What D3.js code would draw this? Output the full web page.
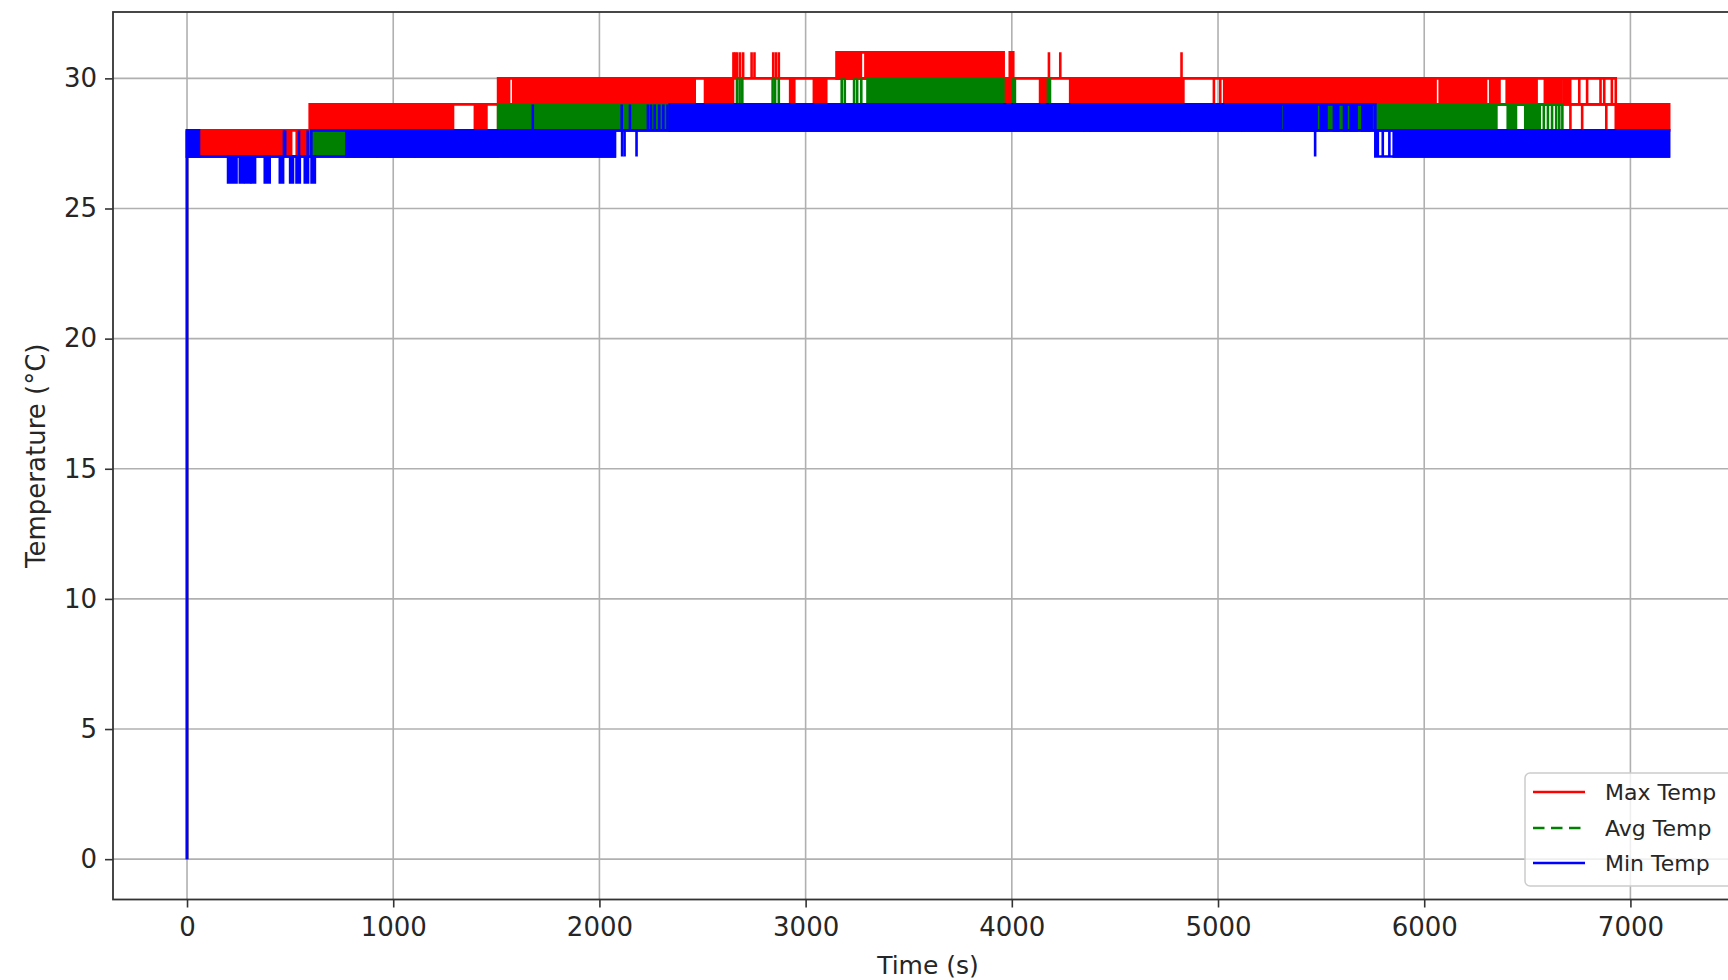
<!DOCTYPE html>
<html><head><meta charset="utf-8">
<script src="https://cdn.jsdelivr.net/npm/d3@7"></script>
<style>html,body{margin:0;padding:0;background:#fff;overflow:hidden}</style>
</head><body><svg id="chart" width="1728" height="980"></svg>
<script>
// ---------- data (time in s, temperature in °C) ----------
const xTicks = [0, 1000, 2000, 3000, 4000, 5000, 6000, 7000];
const yTicks = [0, 5, 10, 15, 20, 25, 30];
const seriesNames = ["Max Temp", "Avg Temp", "Min Temp"];
const seriesColors = ["#ff0000", "#008000", "#0000ff"];
const xLabel = "Time (s)";
const yLabel = "Temperature (°C)";

// envelopes: [tStart, tEnd, low, high] – level band the trace stays within
// bands: [tStart, tEnd, low, high] – spans where the trace flickers densely
// spikes: [t, low, high] – single short excursions
const maxEnvelopes = [
  [0, 596, 27, 28], [596, 1509, 28, 29], [1509, 6929, 29, 30],
  [3151, 3960, 30, 31], [6709, 7187, 28, 29]
];
const maxBands = [
  [0, 433, 27, 28], [438, 505, 27, 28], [532, 570, 27, 28], [578, 596, 27, 28],
  [596, 1273, 28, 29], [1283, 1290, 28, 29], [1396, 1452, 28, 29],
  [1509, 1562, 29, 30], [1582, 1812, 29, 30], [1820, 2000, 29, 30], [2008, 2434, 29, 30],
  [2440, 2462, 29, 30], [2512, 2648, 29, 30], [2925, 2945, 29, 30], [3040, 3100, 29, 30],
  [3151, 3180, 30, 31], [3185, 3228, 30, 31], [3233, 3268, 30, 31], [3290, 3683, 30, 31],
  [3688, 3763, 30, 31], [3768, 3959, 30, 31], [3990, 4007, 30, 31],
  [3959, 4002, 29, 30], [4137, 4170, 29, 30],
  [4283, 4318, 29, 30], [4323, 4612, 29, 30], [4617, 4718, 29, 30], [4723, 4832, 29, 30],
  [5030, 5114, 29, 30], [5119, 5332, 29, 30], [5337, 5405, 29, 30], [5410, 5510, 29, 30],
  [5515, 6055, 29, 30], [6075, 6265, 29, 30], [6275, 6300, 29, 30], [6320, 6365, 29, 30],
  [6400, 6440, 29, 30], [6450, 6545, 29, 30], [6585, 6665, 29, 30], [6675, 6708, 29, 30],
  [6929, 7050, 28, 29], [7062, 7187, 28, 29]
];
const maxSpikes = [
  [0, 0, 28],
  [2650, 30, 31], [2658, 30, 31], [2668, 30, 31], [2682, 30, 31], [2697, 30, 31],
  [2738, 30, 31], [2752, 30, 31], [2843, 30, 31], [2856, 30, 31], [2870, 30, 31],
  [4180, 30, 31], [4235, 30, 31], [4823, 30, 31],
  [4980, 29, 30], [5011, 29, 30], [6752, 29, 30], [6790, 29, 30], [6855, 29, 30],
  [6873, 29, 30], [6910, 29, 30],
  [1278, 28, 29], [6766, 28, 29], [6883, 28, 29]
];

const avgEnvelopes = [
  [0, 603, 27, 27], [603, 1509, 27, 28], [1509, 2342, 28, 29], [2342, 6670, 28, 29],
  [6670, 7187, 28, 28]
];
const avgBands = [
  [603, 773, 27, 28],
  [1509, 2342, 28, 29],
  [3300, 3959, 29, 30],
  [5290, 6350, 28, 29], [6405, 6445, 28, 29], [6490, 6560, 28, 29]
];
const avgSpikes = [
  [0, 0, 27],
  [814, 27, 28], [921, 27, 28], [984, 27, 28], [1105, 27, 28],
  [2667, 29, 30], [2680, 29, 30], [2693, 29, 30], [2840, 29, 30], [2852, 29, 30], [2870, 29, 30],
  [3175, 29, 30], [3190, 29, 30], [3235, 29, 30], [3250, 29, 30], [3270, 29, 30],
  [4005, 29, 30], [4015, 29, 30], [4175, 29, 30], [4185, 29, 30],
  [4349, 28, 29], [4377, 28, 29],
  [6580, 28, 29], [6600, 28, 29], [6620, 28, 29], [6640, 28, 29], [6655, 28, 29]
];

const minEnvelopes = [
  [0, 603, 27, 27], [603, 2075, 27, 28], [2075, 2342, 28, 28], [2342, 5763, 28, 29],
  [5763, 7187, 27, 28]
];
const minBands = [
  [0, 58, 27, 28],
  [199, 240, 26, 27], [256, 272, 26, 27], [282, 306, 26, 27], [314, 330, 26, 27],
  [377, 401, 26, 27], [450, 466, 26, 27], [500, 514, 26, 27], [531, 547, 26, 27],
  [571, 587, 26, 27], [604, 620, 26, 27],
  [773, 810, 27, 28], [818, 918, 27, 28], [924, 981, 27, 28], [987, 1102, 27, 28],
  [1108, 2075, 27, 28],
  [2342, 4345, 28, 29], [4352, 4375, 28, 29], [4382, 4812, 28, 29], [4817, 4866, 28, 29],
  [4873, 4950, 28, 29], [4957, 5110, 28, 29], [5118, 5305, 28, 29],
  [5320, 5355, 28, 29], [5362, 5428, 28, 29], [5434, 5478, 28, 29], [5498, 5526, 28, 29],
  [5562, 5583, 28, 29], [5611, 5623, 28, 29], [5643, 5672, 28, 29], [5700, 5737, 28, 29],
  [5852, 7187, 27, 28]
];
const minSpikes = [
  [0, 0, 28],
  [470, 27, 28], [476, 27, 28], [543, 27, 28], [585, 27, 28],
  [2110, 27, 28], [2122, 27, 28], [2180, 27, 28],
  [1677, 28, 29], [2108, 28, 29], [2148, 28, 29], [2235, 28, 29], [2250, 28, 29],
  [2268, 28, 29], [2290, 28, 29], [2310, 28, 29], [2330, 28, 29],
  [5471, 27, 28], [5745, 28, 29], [5760, 28, 29],
  [5766, 27, 28], [5775, 27, 28], [5799, 27, 28], [5831, 27, 28]
];

// ---------- layout ----------
const W = 1728, H = 980;
const plot = { left: 113, top: 12, right: 1743, bottom: 899.5 };
const FONT = "'DejaVu Sans', sans-serif";
const TXT = "#262626";
const LW = 2.6;

const x = d3.scaleLinear().domain([-359, 7546]).range([plot.left, plot.right]);
const y = d3.scaleLinear().domain([-1.55, 32.55]).range([plot.bottom, plot.top]);

const svg = d3.select("#chart");
svg.append("rect").attr("width", W).attr("height", H).attr("fill", "#fff");

svg.append("defs").append("clipPath").attr("id", "clip")
  .append("rect").attr("x", plot.left).attr("y", plot.top)
  .attr("width", plot.right - plot.left).attr("height", plot.bottom - plot.top);

// grid
const grid = svg.append("g");
grid.selectAll("line.vx").data(xTicks).join("line")
  .attr("x1", d => x(d)).attr("x2", d => x(d))
  .attr("y1", plot.top).attr("y2", plot.bottom)
  .attr("stroke", "#b0b0b0").attr("stroke-width", 1.6);
grid.selectAll("line.hy").data(yTicks).join("line")
  .attr("y1", d => y(d)).attr("y2", d => y(d))
  .attr("x1", plot.left).attr("x2", plot.right)
  .attr("stroke", "#b0b0b0").attr("stroke-width", 1.6);

// series
const dataG = svg.append("g").attr("clip-path", "url(#clip)");
function boxPath(d) {
  const x0 = x(d[0]), x1 = x(d[1]), yl = y(d[2]), yh = y(d[3]);
  return `M${x0},${yh}H${x1}V${yl}H${x0}Z`;
}
function drawSeries(env, bands, spikes, color) {
  const g = dataG.append("g");
  g.selectAll("path.env").data(env).join("path").attr("class", "env")
    .attr("d", boxPath).attr("fill", "none").attr("stroke", color).attr("stroke-width", LW);
  g.selectAll("path.band").data(bands).join("path").attr("class", "band")
    .attr("d", boxPath).attr("fill", color).attr("stroke", color).attr("stroke-width", LW);
  g.selectAll("line.spike").data(spikes).join("line").attr("class", "spike")
    .attr("x1", d => x(d[0])).attr("x2", d => x(d[0]))
    .attr("y1", d => y(d[1])).attr("y2", d => y(d[2]))
    .attr("stroke", color).attr("stroke-width", LW);
}
drawSeries(maxEnvelopes, maxBands, maxSpikes, seriesColors[0]);
drawSeries(avgEnvelopes, avgBands, avgSpikes, seriesColors[1]);
drawSeries(minEnvelopes, minBands, minSpikes, seriesColors[2]);

// axes
const xAxis = d3.axisBottom(x).tickValues(xTicks).tickSize(8).tickPadding(10).tickFormat(d3.format("d"));
const yAxis = d3.axisLeft(y).tickValues(yTicks).tickSize(8).tickPadding(8).tickFormat(d3.format("d"));
const gx = svg.append("g").attr("transform", `translate(0,${plot.bottom})`).call(xAxis);
const gy = svg.append("g").attr("transform", `translate(${plot.left},0)`).call(yAxis);
[gx, gy].forEach(g => {
  g.select(".domain").remove();
  g.selectAll(".tick line").attr("stroke", "#333").attr("stroke-width", 1.6);
  g.selectAll(".tick text").attr("fill", TXT).style("font-family", FONT).style("font-size", "26px");
});

// spines
svg.append("rect").attr("x", plot.left).attr("y", plot.top)
  .attr("width", plot.right - plot.left).attr("height", plot.bottom - plot.top)
  .attr("fill", "none").attr("stroke", "#333").attr("stroke-width", 1.8);

// axis labels
svg.append("text").attr("x", (plot.left + plot.right) / 2).attr("y", 974)
  .attr("text-anchor", "middle").attr("fill", TXT)
  .style("font-family", FONT).style("font-size", "25px").text(xLabel);
svg.append("text").attr("transform", `translate(45,${(plot.top + plot.bottom) / 2}) rotate(-90)`)
  .attr("text-anchor", "middle").attr("fill", TXT)
  .style("font-family", FONT).style("font-size", "26px").text(yLabel);

// legend
const leg = svg.append("g");
leg.append("rect").attr("x", 1525).attr("y", 773).attr("width", 210).attr("height", 113)
  .attr("rx", 5).attr("fill", "#fff").attr("fill-opacity", 0.8)
  .attr("stroke", "#cccccc").attr("stroke-width", 1.5);
const legRows = seriesNames.map((n, i) => ({ name: n, color: seriesColors[i], i }));
const legY = [792, 828, 863];
leg.selectAll("line").data(legRows).join("line")
  .attr("x1", 1533).attr("x2", 1585)
  .attr("y1", d => legY[d.i]).attr("y2", d => legY[d.i])
  .attr("stroke", d => d.color).attr("stroke-width", LW)
  .attr("stroke-dasharray", d => d.i === 1 ? "11.5,6.5" : null);
leg.selectAll("text").data(legRows).join("text")
  .attr("x", 1605).attr("y", d => legY[d.i]).attr("dy", "0.35em")
  .attr("fill", TXT).style("font-family", FONT).style("font-size", "22px")
  .text(d => d.name);
</script></body></html>
